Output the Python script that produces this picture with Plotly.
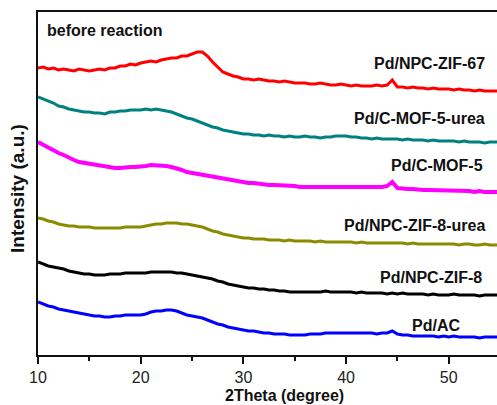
import numpy as np
import plotly.graph_objects as go

# 2Theta grid (degree), 0.5 step from 10 to 55
two_theta = np.arange(10, 55.01, 0.5)

# Offset intensities (a.u.)
pd_npc_zif67 = [
    287, 288, 286, 287, 285, 286, 285, 284, 286, 285,
    284, 285, 286, 285, 287, 287, 289, 289, 291, 290,
    292, 293, 294, 293, 295, 296, 297, 297, 299, 299,
    301, 303, 303, 299, 293, 288, 283, 281, 279, 278,
    276, 276, 275, 276, 275, 274, 274, 273, 274, 273,
    272, 272, 272, 271, 271, 272, 271, 270, 270, 271,
    270, 269, 270, 269, 269, 269, 270, 269, 270, 275,
    268, 268, 267, 268, 267, 267, 266, 267, 266, 266,
    266, 265, 266, 265, 265, 264, 265, 264, 264, 264,
    264]
pd_c_mof5_urea = [
    258, 256, 254, 252, 249, 248, 246, 245, 244, 243,
    243, 242, 242, 241, 243, 243, 244, 244, 245, 245,
    245, 246, 245, 246, 245, 244, 243, 241, 239, 237,
    236, 234, 232, 230, 228, 227, 225, 224, 223, 222,
    221, 221, 220, 220, 219, 220, 219, 219, 218, 219,
    218, 218, 219, 218, 218, 217, 218, 218, 219, 219,
    219, 218, 218, 217, 217, 216, 217, 216, 216, 216,
    216, 215, 216, 215, 215, 215, 214, 215, 214, 214,
    214, 214, 213, 214, 213, 213, 213, 212, 213, 213,
    213]
pd_c_mof5 = [
    213, 210, 207, 204, 202, 200, 197, 195, 193, 192,
    191, 190, 189, 188, 187, 187, 187, 188, 188, 188,
    188, 189, 190, 190, 190, 189, 188, 187, 185, 183,
    182, 181, 180, 179, 178, 177, 176, 175, 174, 173,
    172, 172, 172, 171, 171, 170, 170, 170, 169, 169,
    169, 168, 168, 168, 167, 167, 167, 167, 168, 167,
    167, 167, 168, 167, 167, 167, 168, 168, 169, 173,
    167, 166, 166, 166, 165, 165, 165, 165, 165, 164,
    165, 164, 164, 164, 164, 163, 164, 163, 163, 163,
    163]
pd_npc_zif8_urea = [
    137, 136, 134, 133, 131, 130, 129, 129, 128, 128,
    128, 127, 127, 127, 127, 127, 127, 128, 128, 128,
    128, 129, 130, 131, 131, 132, 132, 132, 131, 131,
    130, 129, 128, 126, 124, 123, 121, 120, 119, 118,
    117, 117, 116, 116, 116, 115, 115, 115, 114, 115,
    114, 114, 114, 114, 113, 114, 113, 113, 113, 113,
    113, 113, 112, 113, 112, 112, 112, 112, 112, 112,
    112, 112, 111, 112, 111, 111, 111, 111, 111, 111,
    111, 111, 110, 111, 111, 110, 110, 111, 110, 110,
    110]
pd_npc_zif8 = [
    93, 91, 89, 88, 87, 86, 84, 83, 82, 81,
    81, 80, 80, 80, 81, 81, 81, 82, 82, 82,
    82, 82, 83, 83, 83, 83, 83, 82, 82, 81,
    80, 79, 78, 77, 76, 74, 73, 71, 70, 69,
    68, 67, 67, 66, 66, 65, 65, 64, 64, 63,
    63, 63, 63, 63, 63, 63, 64, 63, 63, 63,
    63, 63, 62, 63, 62, 62, 62, 62, 61, 62,
    61, 62, 61, 61, 61, 61, 60, 61, 60, 60,
    60, 61, 60, 60, 60, 60, 59, 60, 60, 60,
    60]
pd_ac = [
    53, 51, 49, 48, 46, 45, 44, 43, 42, 41,
    40, 39, 39, 38, 38, 39, 39, 40, 40, 40,
    40, 41, 43, 44, 44, 45, 45, 44, 42, 40,
    39, 38, 37, 35, 33, 31, 30, 28, 27, 26,
    25, 24, 24, 23, 22, 22, 21, 21, 21, 20,
    20, 20, 20, 21, 21, 21, 22, 22, 22, 22,
    22, 22, 22, 22, 22, 22, 21, 22, 22, 24,
    21, 20, 20, 19, 19, 19, 19, 19, 18, 19,
    18, 19, 18, 18, 18, 18, 17, 18, 18, 18,
    18]

series_names = ["Pd/NPC-ZIF-67", "Pd/C-MOF-5-urea", "Pd/C-MOF-5",
                "Pd/NPC-ZIF-8-urea", "Pd/NPC-ZIF-8", "Pd/AC"]
series_values = [pd_npc_zif67, pd_c_mof5_urea, pd_c_mof5,
                 pd_npc_zif8_urea, pd_npc_zif8, pd_ac]
colors = ["#FF0000", "#008080", "#FF00FF", "#8B8B00", "#000000", "#0000FF"]
widths = [3, 3, 4, 3, 3, 3]

# label anchor positions (right edge x in degree, y in a.u.)
label_pos = [(53.72, 292), (53.72, 237), (53.53, 190),
             (53.72, 130), (53.43, 78), (51.29, 30)]

x_ticks = [10, 20, 30, 40, 50]
FONT = "Liberation Sans, Arial, sans-serif"

fig = go.Figure()
for name, vals, col, w in zip(series_names, series_values, colors, widths):
    fig.add_trace(go.Scatter(x=two_theta, y=vals, mode="lines", name=name,
                             line=dict(color=col, width=w), showlegend=False))

annotations = []
for name, (lx, ly) in zip(series_names, label_pos):
    annotations.append(dict(x=lx, y=ly, xref="x", yref="y", text="<b>" + name + "</b>",
                            showarrow=False, xanchor="right", yanchor="middle",
                            font=dict(family=FONT, size=16, color="#111111")))
annotations.append(dict(x=10.68, y=325, xref="x", yref="y", text="<b>before reaction</b>",
                        showarrow=False, xanchor="left", yanchor="middle",
                        font=dict(family=FONT, size=16, color="#111111")))
annotations.append(dict(x=0.536, y=-0.118, xref="paper", yref="paper",
                        text="<b>2Theta (degree)</b>", showarrow=False,
                        xanchor="center", yanchor="middle",
                        font=dict(family=FONT, size=16, color="#111111")))
annotations.append(dict(x=-0.0436, y=0.487, xref="paper", yref="paper",
                        text="<b>Intensity (a.u.)</b>", showarrow=False, textangle=-90,
                        xanchor="center", yanchor="middle",
                        font=dict(family=FONT, size=19, color="#111111")))

fig.update_layout(
    width=497, height=405,
    margin=dict(l=38, r=0, t=12, b=50),
    paper_bgcolor="white", plot_bgcolor="white",
    annotations=annotations,
    xaxis=dict(range=[10, 54.7], tickvals=x_ticks, ticks="outside", ticklen=7,
               tickwidth=1.5, tickcolor="#111111", showline=True, linecolor="#111111",
               linewidth=1.5, mirror=True, showgrid=False, zeroline=False,
               tickfont=dict(family=FONT, size=16, color="#222222"),
               minor=dict(dtick=5, tick0=10, ticks="outside", ticklen=4,
                          tickwidth=1.5, tickcolor="#111111", showgrid=False)),
    yaxis=dict(range=[0, 343], showticklabels=False, ticks="", showline=True,
               linecolor="#111111", linewidth=1.5, mirror=False, showgrid=False,
               zeroline=False),
)

fig.write_html("out.html")
